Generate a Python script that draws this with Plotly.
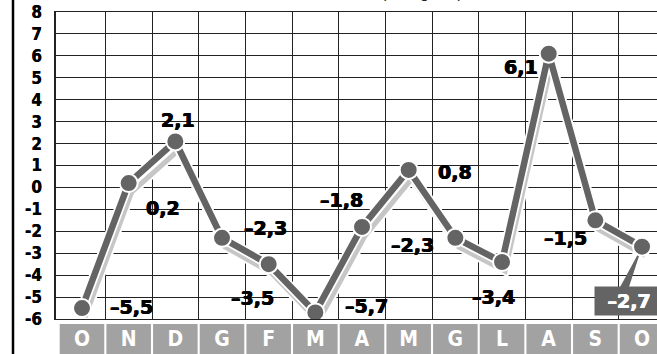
import plotly.graph_objects as go

# ---------------- data ----------------
months = ["O", "N", "D", "G", "F", "M", "A", "M", "G", "L", "A", "S", "O"]
values = [-5.5, 0.2, 2.1, -2.3, -3.5, -5.7, -1.8, 0.8, -2.3, -3.4, 6.1, -1.5, -2.7]
y_ticks = list(range(-6, 9))
subtitle = "(in migliaia)"

# label offsets (pixels, styling only)
label_dx = [49, 34, 3, 43, -16, 51, -21, 46, -43, -9, -28, -30, None]
label_dy = [1, -25, 21, 10, -34, 6, 27, -2, -7, -35, -13, -18, None]


def fmt(v):
    s = f"{abs(v):.1f}".replace(".", ",")
    return ("\u2013" if v < 0 else "") + s


# ---------------- geometry ----------------
W, H = 657, 354
L, T = 56, 12
PW, PH = W - L, H - T
x_idx = list(range(len(months)))
unit_x = 46.67
x_range = [-26 / unit_x, (W - L - 26) / unit_x]
y_range = [-6, 8]
unit_y = 307 / 14
main_dom = [35 / PH, 1]
band_dom = [0, 30 / PH]
shadow_dx, shadow_dy = 3, 9  # pixel shadow offset

DARK = "#646464"
LIGHT = "#c6c6c6"
GRID = "#222222"
NARROW = "Liberation Sans Narrow, DejaVu Sans Condensed, Arial Narrow, sans-serif"
WIDE = "DejaVu Sans, Verdana, sans-serif"
HEAVY_BLACK = "0.6px 0 0 black, -0.4px 0 0 black"
HEAVY_WHITE = "0.6px 0 0 white, -0.4px 0 0 white"

fig = go.Figure()

# base subplot (carries grid and y ticks)
fig.add_trace(go.Scatter(x=[], y=[], xaxis="x", yaxis="y", mode="lines", hoverinfo="skip"))

# shadow line (offset axes)
fig.add_trace(go.Scatter(x=x_idx, y=values, xaxis="x2", yaxis="y2", mode="lines",
                         line=dict(color="white", width=9), hoverinfo="skip"))
fig.add_trace(go.Scatter(x=x_idx, y=values, xaxis="x2", yaxis="y2", mode="lines",
                         line=dict(color=LIGHT, width=5), hoverinfo="skip"))

# pointer wedge for the boxed last value
last_i, last_v = x_idx[-1], values[-1]
fig.add_trace(go.Scatter(x=[last_i - 0.47, last_i - 0.28, last_i, last_i - 0.47],
                         y=[last_v - 1.84, last_v - 1.84, last_v, last_v - 1.84],
                         xaxis="x3", yaxis="y3", mode="lines", fill="toself",
                         fillcolor=DARK, line=dict(width=0, color=DARK), hoverinfo="skip"))

# main line
fig.add_trace(go.Scatter(x=x_idx, y=values, xaxis="x3", yaxis="y3", mode="lines",
                         line=dict(color="white", width=10), hoverinfo="skip"))
fig.add_trace(go.Scatter(x=x_idx, y=values, xaxis="x3", yaxis="y3", mode="lines+markers",
                         line=dict(color=DARK, width=6.5),
                         marker=dict(size=18, color=DARK, line=dict(color="white", width=2)),
                         hoverinfo="skip"))

# category band
fig.add_trace(go.Bar(x=x_idx, y=[1] * len(months), xaxis="x4", yaxis="y4", width=0.955,
                     marker=dict(color="#a2a2a2", line=dict(width=0)),
                     text=months, textposition="inside", insidetextanchor="middle",
                     textangle=0, constraintext="none",
                     textfont=dict(family=NARROW, size=21, color="white", weight="bold"),
                     hoverinfo="skip"))

annotations = []
for i, v in enumerate(values):
    if label_dx[i] is None:
        continue
    annotations.append(dict(x=i, y=v, xref="x3", yref="y3", text=fmt(v), showarrow=False,
                            xshift=label_dx[i], yshift=label_dy[i],
                            font=dict(family=WIDE, size=19, color="black", weight="bold",
                                      shadow=HEAVY_BLACK)))
# boxed last value
annotations.append(dict(x=last_i, y=last_v, xref="x3", yref="y3", text=fmt(last_v),
                        showarrow=False, xanchor="left", yanchor="middle",
                        xshift=-48, yshift=-54, bgcolor=DARK, borderpad=3,
                        width=62, height=22, align="center",
                        font=dict(family=WIDE, size=19, color="white", weight="bold",
                                  shadow=HEAVY_WHITE)))
# cut-off subtitle
annotations.append(dict(x=(465 - L) / PW, y=1 + (T + 8) / PH, xref="paper", yref="paper",
                        text=subtitle, showarrow=False, yanchor="middle",
                        font=dict(family="Liberation Sans, Arial, sans-serif", size=16, color="#222")))

shapes = [
    dict(type="line", xref="paper", yref="paper", x0=(13 - L) / PW, x1=(13 - L) / PW,
         y0=0, y1=1 + T / PH + 0.01, line=dict(color="black", width=2.5)),
]

hidden = dict(visible=False, automargin=False)

fig.update_layout(
    width=W, height=H,
    margin=dict(l=L, r=0, t=T, b=0, autoexpand=False),
    paper_bgcolor="white", plot_bgcolor="white",
    showlegend=False,
    annotations=annotations,
    shapes=shapes,
    xaxis=dict(range=x_range, tickvals=[i + 0.5 for i in x_idx], showticklabels=False,
               showgrid=True, gridcolor=GRID, gridwidth=1.4, zeroline=False,
               showline=True, mirror=True, linecolor=GRID, linewidth=1.4, ticks="",
               anchor="y", domain=[0, 1], automargin=False),
    yaxis=dict(range=y_range, domain=main_dom, tickvals=y_ticks,
               ticktext=[str(t) for t in y_ticks], showgrid=True, gridcolor=GRID,
               gridwidth=1.4, zeroline=False, showline=True, linecolor=GRID, linewidth=1.6,
               ticks="", ticklabelstandoff=9, automargin=False,
               tickfont=dict(family=NARROW, size=17, color="black", weight="bold",
                             shadow="0.4px 0 0 black"),
               anchor="x"),
    xaxis2=dict(range=[x_range[0] - shadow_dx / unit_x, x_range[1] - shadow_dx / unit_x],
                overlaying="x", anchor="y2", **hidden),
    yaxis2=dict(range=[y_range[0] + shadow_dy / unit_y, y_range[1] + shadow_dy / unit_y],
                overlaying="y", anchor="x2", **hidden),
    xaxis3=dict(range=x_range, overlaying="x", anchor="y3", **hidden),
    yaxis3=dict(range=y_range, overlaying="y", anchor="x3", **hidden),
    xaxis4=dict(range=x_range, anchor="y4", domain=[0, 1], **hidden),
    yaxis4=dict(range=[0, 1], domain=band_dom, anchor="x4", **hidden),
)

fig.write_html("out.html")
